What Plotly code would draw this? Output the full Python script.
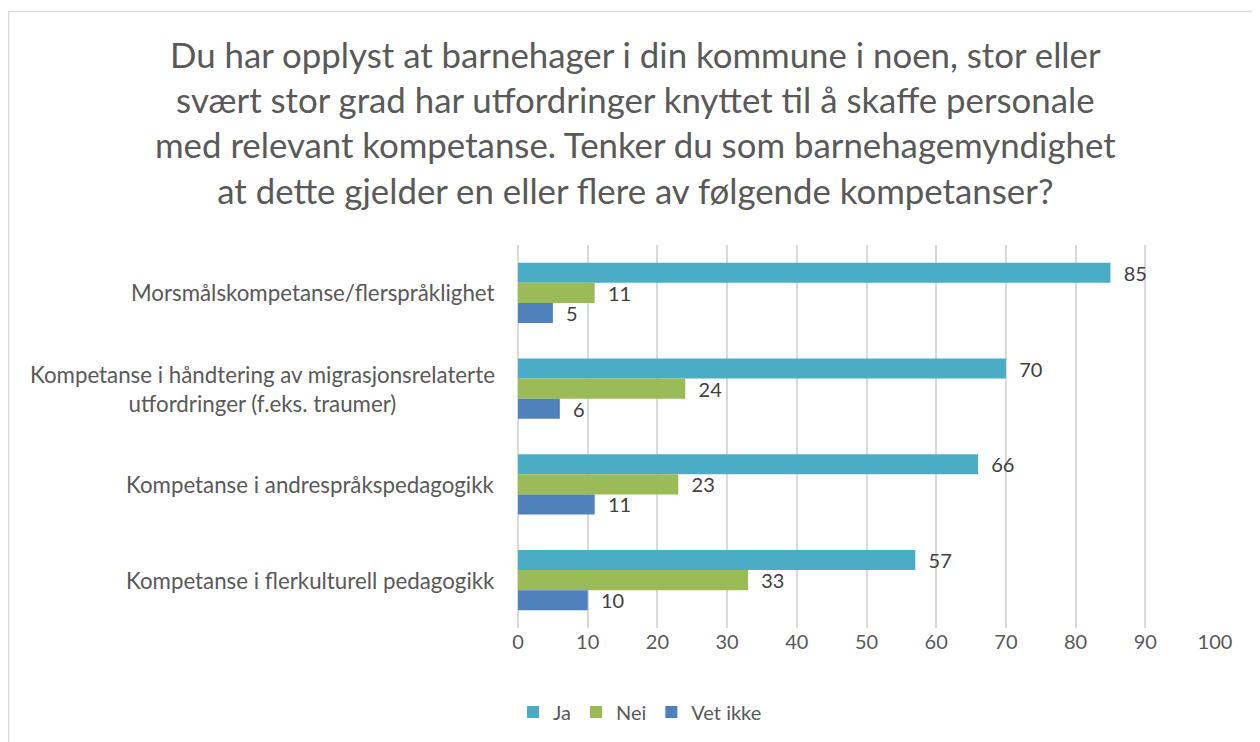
import plotly.graph_objects as go

categories = [
    "Morsmålskompetanse/flerspråklighet",
    "Kompetanse i håndtering av migrasjonsrelaterte<br>utfordringer (f.eks. traumer)",
    "Kompetanse i andrespråkspedagogikk",
    "Kompetanse i flerkulturell pedagogikk",
]
ja = [85, 70, 66, 57]
nei = [11, 24, 23, 33]
vet_ikke = [5, 6, 11, 10]
series_names = ["Ja", "Nei", "Vet ikke"]
colors = ["#4BACC6", "#9BBB59", "#4F81BD"]
x_ticks = [0, 10, 20, 30, 40, 50, 60, 70, 80, 90, 100]
title_text = ("Du har opplyst at barnehager i din kommune i noen, stor eller<br>"
              "svært stor grad har utfordringer knyttet til å skaffe personale<br>"
              "med relevant kompetanse. Tenker du som barnehagemyndighet<br>"
              "at dette gjelder en eller flere av følgende kompetanser?")

FONT = "Lato, Carlito, Calibri, sans-serif"
OFF = 8  # page body margin
W, H = 1252, 734
L, R, T, B = 518 - OFF, 1215 - OFF, 245 - OFF, 628 - OFF

fig = go.Figure()
for name, vals, col in zip(series_names, [ja, nei, vet_ikke], colors):
    fig.add_trace(go.Bar(
        name=name, y=categories, x=vals, orientation="h",
        marker=dict(color=col, line=dict(width=0)),
        text=vals, texttemplate="  %{x}", textposition="outside",
        textfont=dict(family=FONT, size=20, color="#404040"),
        constraintext="none",
        cliponaxis=False,
    ))

def px_x(p):
    return (p - OFF - L) / (R - L)

def px_y(p):
    return (B - (p - OFF)) / (B - T)

annotations = [
    dict(text=title_text, x=px_x(635), y=px_y(122), xref="paper", yref="paper",
         xanchor="center", yanchor="middle", showarrow=False, align="center",
         font=dict(family=FONT, size=34.8, color="#595959"))
]
for c in categories:
    annotations.append(dict(
        text=c, x=px_x(497), y=c, xref="paper", yref="y",
        xanchor="right", yanchor="middle", showarrow=False, align="center",
        font=dict(family=FONT, size=22.3, color="#595959")))

fig.update_layout(
    width=W, height=H,
    margin=dict(l=L, r=W - R, t=T, b=H - B, autoexpand=False),
    paper_bgcolor="white", plot_bgcolor="white",
    barmode="group", bargap=0.37, bargroupgap=0,
    showlegend=True,
    legend=dict(orientation="h", x=px_x(640), y=px_y(712), xanchor="center", yanchor="middle",
                font=dict(family=FONT, size=20, color="#595959"), traceorder="normal",
                itemwidth=30),
    annotations=annotations,
    shapes=[dict(type="rect", xref="paper", yref="paper",
                 x0=px_x(8.5), x1=px_x(1290), y0=px_y(11.5), y1=px_y(800),
                 line=dict(color="#D9D9D9", width=1.5), fillcolor="rgba(0,0,0,0)", layer="below")],
    xaxis=dict(range=[0, 100], tickvals=x_ticks, showgrid=True, gridcolor="#D9D9D9", gridwidth=1.5,
               zeroline=True, zerolinecolor="#D9D9D9", zerolinewidth=1.5,
               tickfont=dict(family=FONT, size=20, color="#595959"), ticks="", showline=False,
               fixedrange=True),
    yaxis=dict(autorange="reversed", showticklabels=False, showgrid=False, zeroline=False,
               ticks="", showline=False),
)

fig.write_html("out.html")
